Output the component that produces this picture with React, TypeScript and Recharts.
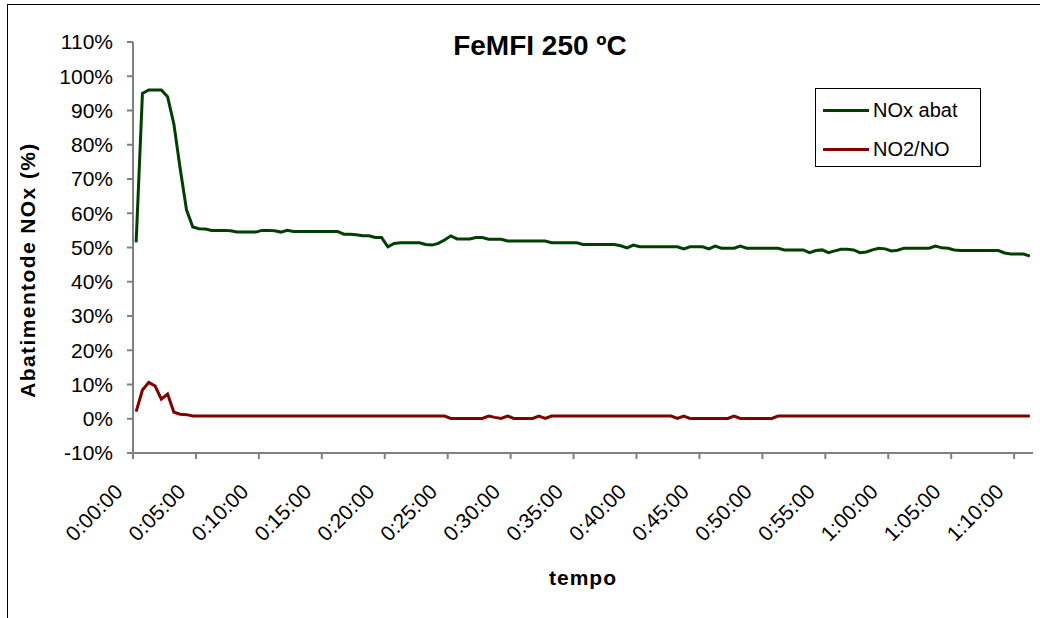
import { LineChart, Line, XAxis, YAxis } from "recharts";

// one reading every 30 s, 0:00:00 .. 1:11:00
const SAMPLE_SECONDS = 30;

// NOx abatement (%)
const noxAbat = [
  51.5, 95, 96, 96, 96, 94, 86, 73, 61, 56,
  55.5, 55.4, 55.0, 55.0, 55.0, 54.9, 54.5, 54.5, 54.5, 54.5,
  55.0, 55.0, 54.9, 54.5, 55.0, 54.7, 54.7, 54.7, 54.7, 54.7,
  54.7, 54.7, 54.7, 53.9, 53.9, 53.7, 53.4, 53.4, 52.9, 52.9,
  50.2, 51.2, 51.4, 51.4, 51.4, 51.4, 50.9, 50.7, 51.2, 52.2,
  53.4, 52.5, 52.5, 52.5, 52.9, 52.9, 52.4, 52.4, 52.4, 51.9,
  51.9, 51.9, 51.9, 51.9, 51.9, 51.9, 51.4, 51.4, 51.4, 51.4,
  51.4, 50.9, 50.9, 50.9, 50.9, 50.9, 50.9, 50.5, 49.9, 50.7,
  50.2, 50.2, 50.2, 50.2, 50.2, 50.2, 50.2, 49.6, 50.2, 50.2,
  50.2, 49.6, 50.4, 49.8, 49.8, 49.8, 50.4, 49.8, 49.8, 49.8,
  49.8, 49.8, 49.8, 49.3, 49.3, 49.3, 49.3, 48.5, 49.1, 49.3,
  48.5, 49.0, 49.5, 49.5, 49.3, 48.5, 48.7, 49.3, 49.8, 49.6,
  49.0, 49.2, 49.8, 49.8, 49.8, 49.8, 49.8, 50.4, 49.9, 49.8,
  49.3, 49.1, 49.1, 49.1, 49.1, 49.1, 49.1, 49.1, 48.4, 48.1,
  48.1, 48.1, 47.5,
];

// NO2/NO ratio (%)
const no2No = [
  2.1, 8.4, 10.6, 9.6, 5.7, 7.2, 1.9, 1.3, 1.2, 0.8,
  0.8, 0.8, 0.8, 0.8, 0.8, 0.8, 0.8, 0.8, 0.8, 0.8,
  0.8, 0.8, 0.8, 0.8, 0.8, 0.8, 0.8, 0.8, 0.8, 0.8,
  0.8, 0.8, 0.8, 0.8, 0.8, 0.8, 0.8, 0.8, 0.8, 0.8,
  0.8, 0.8, 0.8, 0.8, 0.8, 0.8, 0.8, 0.8, 0.8, 0.8,
  0.1, 0.1, 0.1, 0.1, 0.1, 0.1, 0.8, 0.4, 0.1, 0.8,
  0.1, 0.1, 0.1, 0.1, 0.8, 0.1, 0.8, 0.8, 0.8, 0.8,
  0.8, 0.8, 0.8, 0.8, 0.8, 0.8, 0.8, 0.8, 0.8, 0.8,
  0.8, 0.8, 0.8, 0.8, 0.8, 0.8, 0.1, 0.8, 0.1, 0.1,
  0.1, 0.1, 0.1, 0.1, 0.1, 0.8, 0.1, 0.1, 0.1, 0.1,
  0.1, 0.1, 0.8, 0.8, 0.8, 0.8, 0.8, 0.8, 0.8, 0.8,
  0.8, 0.8, 0.8, 0.8, 0.8, 0.8, 0.8, 0.8, 0.8, 0.8,
  0.8, 0.8, 0.8, 0.8, 0.8, 0.8, 0.8, 0.8, 0.8, 0.8,
  0.8, 0.8, 0.8, 0.8, 0.8, 0.8, 0.8, 0.8, 0.8, 0.8,
  0.8, 0.8, 0.8,
];

const xTickLabels = [
  "0:00:00", "0:05:00", "0:10:00", "0:15:00", "0:20:00", "0:25:00", "0:30:00", "0:35:00",
  "0:40:00", "0:45:00", "0:50:00", "0:55:00", "1:00:00", "1:05:00", "1:10:00",
];
const yTicks = [-10, 0, 10, 20, 30, 40, 50, 60, 70, 80, 90, 100, 110];

const GREEN = "#003f00";
const RED = "#800000";
const FONT = "'Liberation Sans', Arial, sans-serif";

const series = [
  { key: "nox", name: "NOx abat", color: GREEN },
  { key: "no2", name: "NO2/NO", color: RED },
];

const data = noxAbat.map((v, i) => ({ t: i * SAMPLE_SECONDS, nox: v, no2: no2No[i] }));

// category axis look: ticks sit between samples, every 10 samples
const half = SAMPLE_SECONDS / 2;
const xTicks = xTickLabels.map((_, k) => k * 10 * SAMPLE_SECONDS - half);

const XTick = (props: any) => {
  const { x, y, index } = props;
  const ax = x - 13;
  const ay = y + 28;
  return (
    <text
      x={ax}
      y={ay}
      transform={`rotate(-45, ${ax}, ${ay})`}
      textAnchor="end"
      dominantBaseline="middle"
      fontSize={21}
      fontFamily={FONT}
      fill="#000"
    >
      {xTickLabels[index]}
    </text>
  );
};

export default function App() {
  return (
    <div style={{ position: "absolute", left: 0, top: 0, width: 1040, height: 618, background: "#fff", overflow: "hidden" }}>
      {/* chart frame (only top and left edges visible) */}
      <div style={{ position: "absolute", left: 7, top: 4, width: 1100, height: 700, borderTop: "1px solid #000", borderLeft: "1px solid #000" }} />

      <LineChart width={1040} height={618} data={data} margin={{ top: 42, right: 7, bottom: 45, left: 0 }}>
        <XAxis
          dataKey="t"
          type="number"
          domain={[-half, noxAbat.length * SAMPLE_SECONDS - half]}
          ticks={xTicks}
          interval={0}
          height={120}
          tick={<XTick />}
          tickSize={6}
          axisLine={{ stroke: "#808080", strokeWidth: 2 }}
          tickLine={{ stroke: "#808080", strokeWidth: 2 }}
          allowDataOverflow
        />
        <YAxis
          type="number"
          domain={[-10, 110]}
          ticks={yTicks}
          interval={0}
          width={133}
          tickSize={6}
          tickMargin={14}
          tickFormatter={(v: number) => `${v}%`}
          tick={{ fontSize: 21, fill: "#000", fontFamily: FONT }}
          axisLine={{ stroke: "#808080", strokeWidth: 2 }}
          tickLine={{ stroke: "#808080", strokeWidth: 2 }}
        />
        {series.map((s) => (
          <Line key={s.key} type="linear" dataKey={s.key} name={s.name} stroke={s.color} strokeWidth={3} dot={false} isAnimationActive={false} />
        ))}
      </LineChart>

      {/* legend */}
      <div
        style={{
          position: "absolute",
          left: 815,
          top: 88,
          width: 164,
          height: 77,
          border: "1px solid #000",
          background: "#fff",
          fontFamily: FONT,
          fontSize: 20,
        }}
      >
        {series.map((s, i) => (
          <div key={s.key} style={{ position: "absolute", left: 7, top: 10 + i * 39, display: "flex", alignItems: "center" }}>
            <div style={{ width: 46, height: 3, background: s.color, marginRight: 4 }} />
            <span style={{ lineHeight: "22px" }}>{s.name}</span>
          </div>
        ))}
      </div>

      <div style={{ position: "absolute", left: 340, top: 30, width: 400, textAlign: "center", fontFamily: FONT, fontWeight: "bold", fontSize: 28, lineHeight: "32px" }}>
        FeMFI 250 ºC
      </div>
      <div
        style={{
          position: "absolute",
          left: 28 - 150,
          top: 270 - 15,
          width: 300,
          height: 30,
          lineHeight: "30px",
          textAlign: "center",
          transform: "rotate(-90deg)",
          fontFamily: FONT,
          fontWeight: "bold",
          fontSize: 21,
          letterSpacing: 1.4,
          whiteSpace: "nowrap",
        }}
      >
        Abatimentode NOx (%)
      </div>
      <div style={{ position: "absolute", left: 483, top: 564, width: 200, textAlign: "center", fontFamily: FONT, fontWeight: "bold", fontSize: 21, letterSpacing: 1, lineHeight: "28px" }}>
        tempo
      </div>
    </div>
  );
}
